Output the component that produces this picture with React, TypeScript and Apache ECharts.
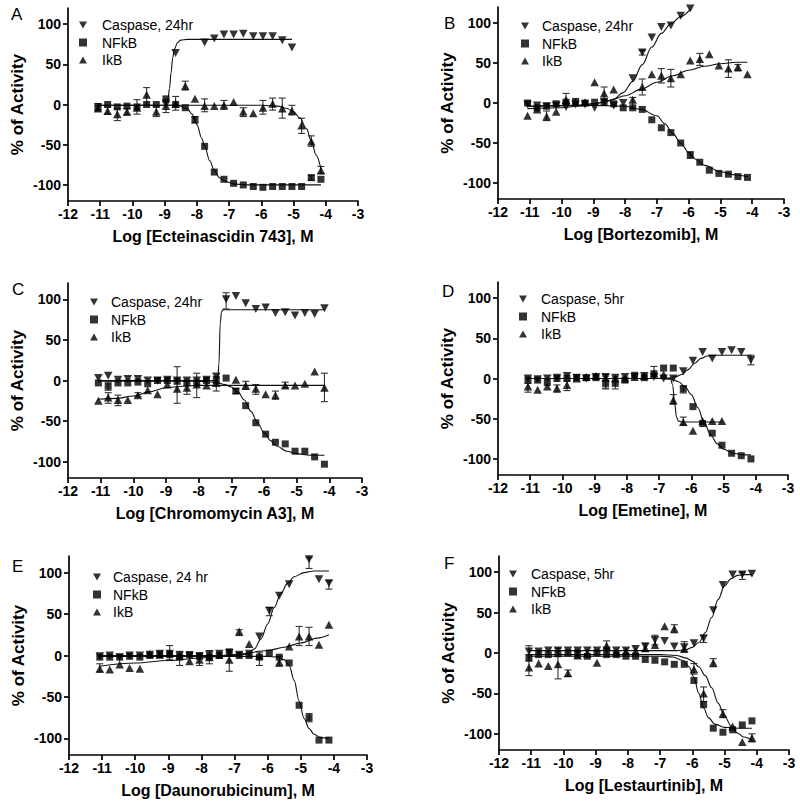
import React, { useEffect, useRef } from "react";
import * as echarts from "echarts";

// shared log concentrations (x positions of the 24 dilution points)
const LOG_CONC = [-11.07, -10.77, -10.47, -10.17, -9.86, -9.56, -9.26, -8.96, -8.66, -8.36, -8.06, -7.76, -7.46, -7.16, -6.86, -6.56, -6.25, -5.95, -5.65, -5.35, -5.05, -4.75, -4.45, -4.15];
const X_TICKS = [-12, -11, -10, -9, -8, -7, -6, -5, -4, -3];
const Y_TICKS = [-100, -50, 0, 50, 100];
const N = null;

// ---------- Panel A : Ecteinascidin 743 ----------
const A_NFKB = [-2.5, 0, -3, -2, -3, 0, 0, 7, 0, -4, -19, -52, -84, -93, -98, -100, -102, -103, -102, -102, -102, -102, -91, -93];
const A_IKB = [-5, -8, -12, -9, -4, 12, -9, -2, 1, 23, 7, -2, -2, -1, 3, -9, -11, -4, 1, -5, -8, -26, -46, -82];
const A_CASP = [N, N, N, N, N, N, N, 0, 64, N, N, 77, 82, 87, 87, 88, 85, 85, 85, 80, 71, N, N, N];
const A_NFKB_ERR = [[0, -7, 1], [10, -23, -15], [22, -94, -88]];
const A_IKB_ERR = [[0, -8, -2], [1, -12, -3], [2, -20, -5], [3, -13, -5], [4, -12, 6], [5, -1, 21], [6, -15, -2], [7, -10, 6], [8, -7, 10], [9, 18, 29], [11, -9, 7], [13, -6, 5], [15, -15, -4], [17, -12, 5], [18, -7, 8], [19, -17, 8], [20, -13, -1], [21, -36, -17], [22, -52, -39], [23, -86, -77]];
const A_CASP_ERR: number[][] = [];
const A_NFKB_FIT = [[-11.07, -1], [-8.6, -1], [-8.3, -5], [-8.15, -12], [-8.0, -25], [-7.85, -42], [-7.76, -52], [-7.6, -70], [-7.46, -82], [-7.3, -91], [-7.1, -96], [-6.8, -99], [-6.4, -100], [-4.15, -100]];
const A_IKB_FIT = [[-11.07, -1], [-6, -1], [-5.5, -2], [-5.2, -5], [-5.0, -9], [-4.8, -17], [-4.6, -30], [-4.45, -45], [-4.3, -63], [-4.15, -80]];
const A_CASP_FIT = [[-8.96, 0], [-8.9, 6], [-8.85, 20], [-8.8, 40], [-8.75, 58], [-8.7, 69], [-8.6, 77], [-8.5, 80], [-8.3, 81], [-5.05, 81]];

// ---------- Panel B : Bortezomib ----------
const B_NFKB = [0, -6, -4, -1, 1, 2, 0, 1, 1, -1, -6, -6, -8, -21, -31, -37, -50, -65, -74, -84, -88, -89, -92, -93];
const B_IKB = [-16, -8, -17, -11, 4, 1, 1, 26, 12, 17, N, 4, 20, 36, 34, 31, 36, 53, 55, 61, 47, 43, 45, 36];
const B_CASP = [-2, -3, -4, -3, -5, -2, -2, -6, 1, -3, 0, 31, 63, 82, 95, 97, 109, 118, N, N, N, N, N, N];
const B_NFKB_ERR = [[17, -69, -61]];
const B_IKB_ERR = [[2, -22, -10], [4, -3, 12], [8, 5, 20], [11, -7, 7], [12, 10, 30], [14, 25, 43], [15, 20, 42], [18, 47, 62], [21, 32, 54], [22, 40, 48]];
const B_CASP_ERR = [[12, 60, 66]];
const B_NFKB_FIT = [[-11.07, -4], [-9, -3], [-8, -4], [-7.5, -8], [-7, -16], [-6.75, -26], [-6.5, -38], [-6.25, -50], [-6, -62], [-5.75, -71], [-5.5, -78], [-5.0, -86], [-4.5, -90], [-4.15, -92]];
const B_IKB_FIT = [[-11.07, -7], [-10, -6], [-9.5, -4], [-9, -1], [-8.5, 3], [-8, 9], [-7.5, 17], [-7, 26], [-6.5, 34], [-6, 41], [-5.5, 46], [-5, 49], [-4.5, 51], [-4.15, 51]];
const B_CASP_FIT = [[-11.07, -4], [-9.5, -3], [-9, -1], [-8.66, 1], [-8.36, 5], [-8.06, 13], [-7.76, 27], [-7.46, 48], [-7.16, 70], [-6.86, 87], [-6.56, 99], [-6.25, 108], [-5.95, 117]];

// ---------- Panel C : Chromomycin A3 ----------
const C_NFKB = [-3, -7, -3, -3, -2, -4, 0, 0, -1, -3, -3, 0, 0, 3, -13, -31, -52, -66, -76, -78, -87, -87, -94, -103];
const C_IKB = [-25, -21, -24, -24, -18, -12, -17, -5, -10, -9, -5, -6, -3, N, 1, -6, -10, -17, -18, -6, -6, -4, 11, -9];
const C_CASP = [3, 6, 1, 2, 2, 0, 0, 1, 0, 0, 0, 1, 5, 100, 104, 95, 88, 90, 83, 84, 80, 83, 82, 89];
const C_NFKB_ERR = [[1, -12, -2], [14, -16, -10]];
const C_IKB_ERR = [[1, -28, -15], [2, -31, -18], [4, -20, -15], [8, -28, 17], [9, -17, -1], [10, -21, 9], [12, -13, 5], [15, -11, -1], [16, -17, -5], [18, -23, -13], [19, -9, -2], [23, -26, 9]];
const C_CASP_ERR = [[13, 88, 108]];
const C_NFKB_FIT = [[-11.07, -1], [-8, -1], [-7.5, -2], [-7.2, -5], [-7, -8], [-6.8, -14], [-6.6, -24], [-6.4, -38], [-6.2, -52], [-6, -64], [-5.8, -74], [-5.6, -81], [-5.3, -87], [-5, -90], [-4.6, -92], [-4.15, -92]];
const C_IKB_FIT = [[-11.07, -23], [-10.5, -22], [-10, -19], [-9.5, -14], [-9, -9], [-8.5, -7], [-8, -6], [-4.15, -6]];
const C_CASP_FIT = [[-11.07, 0], [-7.42, 0], [-7.38, 20], [-7.34, 70], [-7.3, 85], [-7.25, 87], [-4.15, 87]];

// ---------- Panel D : Emetine ----------
const D_NFKB = [-2, -2, -5, 0, 0, 1, 1, 1, -6, -6, -2, 4, 1, 6, 13, 13, -13, -35, -56, -68, -83, -93, -96, -100];
const D_IKB = [-10, -14, -10, -12, -8, 0, 2, 3, 1, 0, 0, 2, 3, 6, 5, -27, -54, -65, -53, -53, -53, N, N, N];
const D_CASP = [0, -1, 0, 1, 3, 1, 0, 2, 2, 1, 2, 2, 3, 2, 0, 0, 9, 22, 33, 25, 33, 35, 33, 23];
const D_NFKB_ERR = [[8, -13, 3], [9, -13, 2], [16, -18, -9]];
const D_IKB_ERR = [[0, -17, -6], [3, -17, -8], [4, -15, -3], [8, -12, 5], [13, 0, 15], [15, -32, -20], [16, -58, -48]];
const D_CASP_ERR = [[23, 17, 29]];
const D_NFKB_FIT = [[-11.07, 0], [-7, 0], [-6.6, -1], [-6.4, -4], [-6.2, -10], [-6, -20], [-5.8, -36], [-5.6, -55], [-5.4, -70], [-5.2, -81], [-5, -88], [-4.7, -93], [-4.4, -95], [-4.15, -95]];
const D_IKB_FIT = [[-11.07, 0], [-6.65, 0], [-6.58, -8], [-6.52, -30], [-6.46, -48], [-6.4, -53], [-6.3, -54], [-5.05, -54]];
const D_CASP_FIT = [[-11.07, 0], [-6.8, 0], [-6.5, 2], [-6.3, 5], [-6.1, 11], [-5.9, 19], [-5.7, 25], [-5.5, 28], [-5.2, 29], [-4.15, 29]];

// ---------- Panel E : Daunorubicinum ----------
const E_NFKB = [-2, -2, -2, -1, -2, 0, 1, 1, -2, 1, -1, -2, 0, 3, 0, 0, -2, 3, -2, -9, -60, -75, -102, -102];
const E_IKB = [-16, -17, -11, -15, -16, 2, 1, 3, 0, -7, -5, -2, 1, -5, 29, 14, 0, N, -8, 11, 23, 23, 13, 37];
const E_CASP = [-1, 0, -2, 0, 0, 1, 2, 2, 0, 0, -1, 1, 2, 3, 1, 2, 23, 54, 72, 86, N, 116, 92, 87];
const E_NFKB_ERR = [[8, -12, 5], [11, -10, 6], [16, -12, 4], [18, -13, -1], [21, -80, -70]];
const E_IKB_ERR = [[0, -20, -10], [7, -5, 12], [10, -12, 3], [13, -19, 8], [14, 24, 31], [20, 12, 35], [21, 12, 34]];
const E_CASP_ERR = [[17, 48, 58], [21, 105, 118], [23, 80, 90]];
const E_NFKB_FIT = [[-11.07, -1], [-6, -1], [-5.7, -2], [-5.5, -5], [-5.35, -12], [-5.2, -30], [-5.05, -55], [-4.9, -76], [-4.75, -88], [-4.6, -95], [-4.4, -99], [-4.15, -100]];
const E_IKB_FIT = [[-11.07, -13], [-10, -9], [-9, -6], [-8, -3], [-7, 1], [-6, 6], [-5.5, 10], [-5, 15], [-4.5, 21], [-4.15, 25]];
const E_CASP_FIT = [[-11.07, 0], [-7, 0], [-6.6, 2], [-6.4, 8], [-6.2, 20], [-6.0, 38], [-5.8, 58], [-5.6, 75], [-5.4, 87], [-5.2, 95], [-4.9, 100], [-4.6, 102], [-4.15, 102]];

// ---------- Panel F : Lestaurtinib ----------
const F_NFKB = [-6, -2, -2, -1, 0, 0, -4, 0, -2, -2, -4, -4, -8, -9, -11, -14, -14, -34, -64, -93, -98, -95, -89, -84];
const F_IKB = [-18, -13, -16, -14, -25, -3, -1, -12, 9, 1, 2, 2, 6, 10, 33, 30, 5, -20, -50, -12, -75, -91, -110, -105];
const F_CASP = [2, 2, 3, 3, 3, 3, 3, 3, 3, 3, 3, 5, 8, 16, 15, 8, 7, 12, 18, 53, 84, 97, 97, 98];
const F_NFKB_ERR = [[0, -10, -2], [5, -6, 2]];
const F_IKB_ERR = [[0, -28, 9], [3, -32, 6], [4, -29, -21], [8, 5, 15], [12, 2, 12], [15, 25, 35], [17, -26, -13], [18, -60, -42], [19, -17, -7], [20, -80, -70], [23, -110, -100]];
const F_CASP_ERR = [[13, 10, 22], [16, 2, 14], [18, 13, 22], [22, 91, 100]];
const F_NFKB_FIT = [[-11.07, -4], [-7, -4], [-6.6, -5], [-6.3, -9], [-6.1, -17], [-5.95, -30], [-5.8, -50], [-5.65, -68], [-5.5, -80], [-5.3, -88], [-5.0, -92], [-4.6, -93], [-4.15, -93]];
const F_IKB_FIT = [[-11.07, -2], [-7, -2], [-6.5, -3], [-6.2, -6], [-6, -10], [-5.8, -17], [-5.6, -28], [-5.4, -43], [-5.2, -62], [-5.0, -78], [-4.8, -90], [-4.6, -99], [-4.4, -104], [-4.15, -108]];
const F_CASP_FIT = [[-11.07, 3], [-6.5, 3], [-6.2, 4], [-6.0, 7], [-5.8, 13], [-5.6, 25], [-5.4, 44], [-5.2, 66], [-5.0, 83], [-4.8, 92], [-4.6, 96], [-4.4, 97], [-4.15, 97]];

const LETTERS = ["A", "B", "C", "D", "E", "F"];
const X_NAMES = ["Log [Ecteinascidin 743], M", "Log [Bortezomib], M", "Log [Chromomycin A3], M", "Log [Emetine], M", "Log [Daunorubicinum], M", "Log [Lestaurtinib], M"];
const CASP_NAMES = ["Caspase, 24hr", "Caspase, 24hr", "Caspase, 24hr", "Caspase, 5hr", "Caspase, 24 hr", "Caspase, 5hr"];
const NFKB_NAME = "NFkB";
const IKB_NAME = "IkB";
const Y_NAME = "% of Activity";

const PANELS = [
  { nfkb: A_NFKB, ikb: A_IKB, casp: A_CASP, nfkbErr: A_NFKB_ERR, ikbErr: A_IKB_ERR, caspErr: A_CASP_ERR, nfkbFit: A_NFKB_FIT, ikbFit: A_IKB_FIT, caspFit: A_CASP_FIT },
  { nfkb: B_NFKB, ikb: B_IKB, casp: B_CASP, nfkbErr: B_NFKB_ERR, ikbErr: B_IKB_ERR, caspErr: B_CASP_ERR, nfkbFit: B_NFKB_FIT, ikbFit: B_IKB_FIT, caspFit: B_CASP_FIT },
  { nfkb: C_NFKB, ikb: C_IKB, casp: C_CASP, nfkbErr: C_NFKB_ERR, ikbErr: C_IKB_ERR, caspErr: C_CASP_ERR, nfkbFit: C_NFKB_FIT, ikbFit: C_IKB_FIT, caspFit: C_CASP_FIT },
  { nfkb: D_NFKB, ikb: D_IKB, casp: D_CASP, nfkbErr: D_NFKB_ERR, ikbErr: D_IKB_ERR, caspErr: D_CASP_ERR, nfkbFit: D_NFKB_FIT, ikbFit: D_IKB_FIT, caspFit: D_CASP_FIT },
  { nfkb: E_NFKB, ikb: E_IKB, casp: E_CASP, nfkbErr: E_NFKB_ERR, ikbErr: E_IKB_ERR, caspErr: E_CASP_ERR, nfkbFit: E_NFKB_FIT, ikbFit: E_IKB_FIT, caspFit: E_CASP_FIT },
  { nfkb: F_NFKB, ikb: F_IKB, casp: F_CASP, nfkbErr: F_NFKB_ERR, ikbErr: F_IKB_ERR, caspErr: F_CASP_ERR, nfkbFit: F_NFKB_FIT, ikbFit: F_IKB_FIT, caspFit: F_CASP_FIT },
];

// layout (pixels)
const LAYOUT = [
  { left: 68, top: 8, width: 290, height: 193, lgLeft: 79, lgTop: 18, lgPad: 10, ltX: 11, ltY: 6 },
  { left: 498, top: 7, width: 286, height: 192, lgLeft: 521, lgTop: 19, lgPad: 8, ltX: 444, ltY: 15 },
  { left: 68, top: 283, width: 294, height: 195, lgLeft: 90, lgTop: 295, lgPad: 8, ltX: 12, ltY: 281 },
  { left: 498, top: 282, width: 290, height: 193, lgLeft: 519, lgTop: 292, lgPad: 9, ltX: 442, ltY: 283 },
  { left: 69, top: 556, width: 298, height: 199, lgLeft: 93, lgTop: 570, lgPad: 7, ltX: 12, ltY: 558 },
  { left: 499, top: 556, width: 290, height: 194, lgLeft: 509, lgTop: 567, lgPad: 9, ltX: 444, ltY: 555 },
];

const FONT = "'Liberation Sans', Arial, Helvetica, sans-serif";
const DOWN_TRI = "path://M0,0L10,0L5,9Z";
const UP_TRI = "path://M5,0L10,9L0,9Z";

function pts(vals: (number | null)[]) {
  const out: number[][] = [];
  vals.forEach((v, k) => {
    if (v !== null && v !== undefined) out.push([LOG_CONC[k], v]);
  });
  return out;
}

function errRender(params: any, api: any) {
  const x = api.value(0);
  const a = api.coord([x, api.value(1)]);
  const b = api.coord([x, api.value(2)]);
  const w = 3.5;
  const style = { stroke: "#333", lineWidth: 1.1 };
  return {
    type: "group",
    children: [
      { type: "line", shape: { x1: a[0], y1: a[1], x2: b[0], y2: b[1] }, style },
      { type: "line", shape: { x1: a[0] - w, y1: a[1], x2: a[0] + w, y2: a[1] }, style },
      { type: "line", shape: { x1: b[0] - w, y1: b[1], x2: b[0] + w, y2: b[1] }, style },
    ],
  };
}

function buildOption() {
  const grid: any[] = [];
  const xAxis: any[] = [];
  const yAxis: any[] = [];
  const legend: any[] = [];
  const series: any[] = [];
  const graphic: any[] = [];

  PANELS.forEach((p, i) => {
    const L = LAYOUT[i];
    grid.push({ left: L.left, top: L.top, width: L.width, height: L.height, containLabel: false });
    xAxis.push({
      gridIndex: i,
      type: "value",
      min: X_TICKS[0],
      max: X_TICKS[X_TICKS.length - 1],
      interval: 1,
      name: X_NAMES[i],
      nameLocation: "middle",
      nameGap: 27,
      nameTextStyle: { fontFamily: FONT, fontWeight: "bold", fontSize: 16, color: "#000" },
      axisLine: { onZero: false, lineStyle: { color: "#000", width: 1.7 } },
      axisTick: { show: true, inside: false, length: 5, lineStyle: { color: "#000", width: 1.7 } },
      axisLabel: { fontFamily: FONT, fontWeight: "bold", fontSize: 14, color: "#000", margin: 6, showMinLabel: true, showMaxLabel: true },
      splitLine: { show: false },
    });
    yAxis.push({
      gridIndex: i,
      type: "value",
      min: -120,
      max: 120,
      name: Y_NAME,
      nameLocation: "middle",
      nameGap: 42,
      nameTextStyle: { fontFamily: FONT, fontWeight: "bold", fontSize: 17, color: "#000" },
      axisLine: { onZero: false, lineStyle: { color: "#000", width: 1.7 } },
      axisTick: { show: true, inside: false, length: 5, customValues: Y_TICKS, lineStyle: { color: "#000", width: 1.7 } },
      axisLabel: { fontFamily: FONT, fontWeight: "bold", fontSize: 14, color: "#000", margin: 7, customValues: Y_TICKS },
      splitLine: { show: false },
    });
    legend.push({
      orient: "vertical",
      left: L.lgLeft,
      top: L.lgTop,
      itemWidth: 8,
      itemHeight: 8,
      itemGap: 3.5,
      selectedMode: false,
      padding: 0,
      textStyle: { fontFamily: FONT, fontSize: 14, color: "#000", lineHeight: 14, padding: [0, 0, 0, L.lgPad] },
      data: [
        { name: CASP_NAMES[i], icon: DOWN_TRI },
        { name: NFKB_NAME, icon: "rect" },
        { name: IKB_NAME, icon: UP_TRI },
      ],
    });
    graphic.push({
      type: "text",
      left: L.ltX,
      top: L.ltY,
      style: { text: LETTERS[i], fontFamily: FONT, fontSize: 17, fill: "#000" },
    });

    const errSets = [p.caspErr, p.nfkbErr, p.ikbErr];
    errSets.forEach((errs) => {
      if (!errs.length) return;
      series.push({
        type: "custom",
        xAxisIndex: i,
        yAxisIndex: i,
        silent: true,
        clip: false,
        z: 1,
        encode: { x: 0, y: [1, 2] },
        data: errs.map((e) => [LOG_CONC[e[0]], e[1], e[2]]),
        renderItem: errRender,
      });
    });

    const fits = [p.caspFit, p.nfkbFit, p.ikbFit];
    fits.forEach((f, j) => {
      series.push({
        type: "line",
        name: "fit-" + i + "-" + j,
        xAxisIndex: i,
        yAxisIndex: i,
        data: f,
        showSymbol: false,
        symbol: "none",
        smooth: 0.35,
        smoothMonotone: "x",
        silent: true,
        z: 2,
        lineStyle: { color: "#111", width: 1.1 },
      });
    });

    series.push({
      type: "scatter", name: CASP_NAMES[i], xAxisIndex: i, yAxisIndex: i,
      data: pts(p.casp), symbol: DOWN_TRI, symbolSize: [8.5, 8], z: 3,
      itemStyle: { color: "#000" },
    });
    series.push({
      type: "scatter", name: NFKB_NAME, xAxisIndex: i, yAxisIndex: i,
      data: pts(p.nfkb), symbol: "rect", symbolSize: 7, z: 3,
      itemStyle: { color: "#000" },
    });
    series.push({
      type: "scatter", name: IKB_NAME, xAxisIndex: i, yAxisIndex: i,
      data: pts(p.ikb), symbol: UP_TRI, symbolSize: [8.5, 8], z: 3,
      itemStyle: { color: "#000" },
    });
  });

  return {
    animation: false,
    backgroundColor: "#fff",
    grid,
    xAxis,
    yAxis,
    legend,
    series,
    graphic,
  };
}

export default function App() {
  const ref = useRef<HTMLDivElement>(null);
  useEffect(() => {
    if (!ref.current) return;
    const chart = echarts.init(ref.current, undefined, { renderer: "svg" });
    chart.setOption(buildOption() as any);
    return () => chart.dispose();
  }, []);
  return (
    <div
      ref={ref}
      style={{ position: "absolute", left: 0, top: 0, width: 800, height: 808, background: "#fff" }}
    />
  );
}
